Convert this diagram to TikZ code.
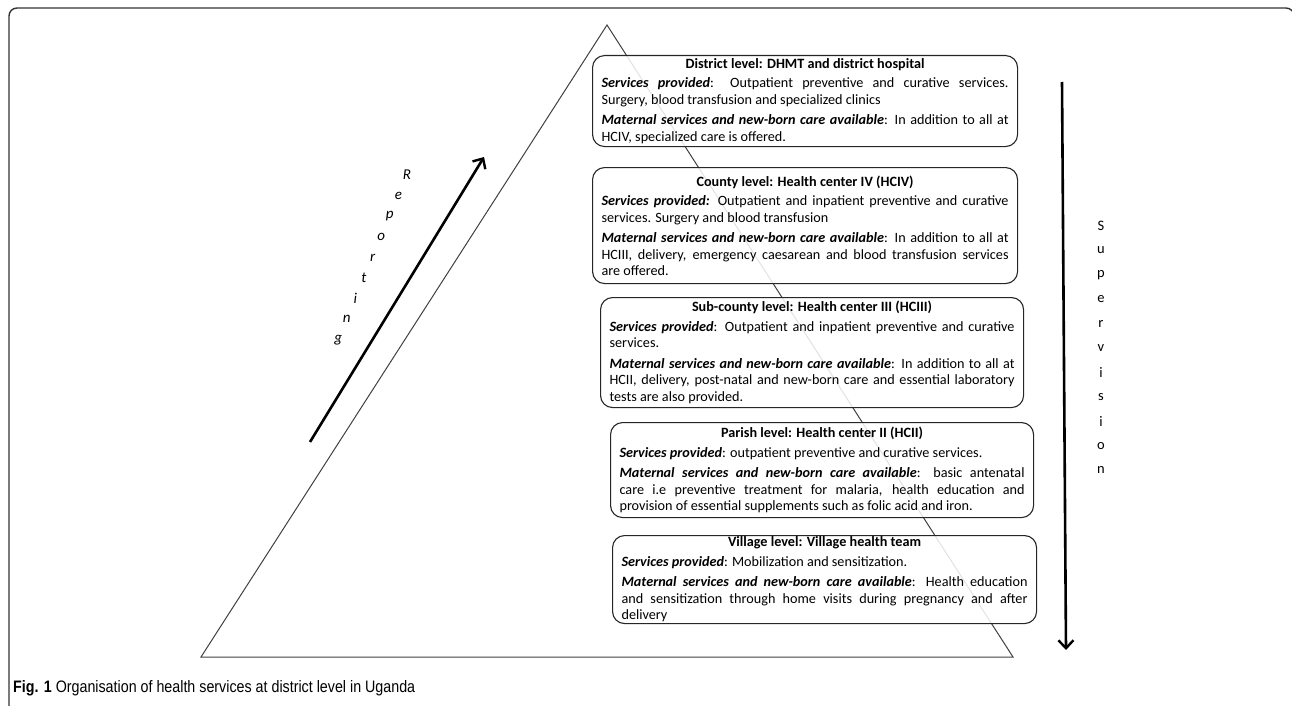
\documentclass[tikz,border=0pt]{standalone}
\usepackage{fontspec}
\setmainfont{Carlito}
\newfontfamily\capfont[FakeStretch=0.86]{Liberation Sans}
\usetikzlibrary{arrows.meta}
\newcommand\lvlcontent[3]{{\centering\bfseries #1\par}\vspace{3pt}#2\par\vspace{4pt}#3}
\tikzset{
  lvlbox/.style={draw=black!85, line width=1.1pt, rounded corners=12pt, fill=white, fill opacity=0.85, text opacity=1,
    anchor=north west, align=justify, inner xsep=9pt, inner ysep=0pt,
    font=\fontsize{14.2}{16.5}\selectfont},
  bigarrow/.style={line width=2.6pt, -{Straight Barb[length=8pt,width=15pt,line width=2.4pt]}},
  repletter/.style={font=\fontsize{15}{17}\selectfont\itshape, inner sep=0pt},
  supletter/.style={font=\fontsize{14.5}{17}\selectfont, inner sep=0pt},
  frameline/.style={draw=black!80, line width=1.4pt, rounded corners=8pt},
  triline/.style={draw=black!75, line width=1pt}
}
\begin{document}
\begin{tikzpicture}[x=1pt,y=-1pt]
\useasboundingbox (0,0) rectangle (1292,706);
% frame
\draw[frameline] (9,720) -- (9,8) -- (1294,8) -- (1294,720);
% triangle
\coordinate (apex) at (607,25);
\coordinate (bl) at (201,657);
\coordinate (br) at (1013,657);
\draw[triline] (apex) -- (bl) -- (br) -- cycle;
% boxes
\node[lvlbox, text width=407pt, minimum height=91pt] (district) at (592,55)
 {\lvlcontent{District level: DHMT and district hospital}
 {\textbf{\textit{Services provided}}: Outpatient preventive and curative services.\linebreak
 Surgery, blood transfusion and specialized clinics}
 {\textbf{\textit{Maternal services and new-born care available}}: In addition to all at\linebreak
 HCIV, specialized care is offered.}};
\node[lvlbox, text width=407pt, minimum height=116pt] (county) at (592,167)
 {\lvlcontent{County level: Health center IV (HCIV)}
 {\textbf{\textit{Services provided:}} Outpatient and inpatient preventive and curative\linebreak
 services. Surgery and blood transfusion}
 {\textbf{\textit{Maternal services and new-born care available}}: In addition to all at\linebreak
 HCIII, delivery, emergency caesarean and blood transfusion services\linebreak
 are offered.}};
\node[lvlbox, text width=405pt, minimum height=110pt] (subcounty) at (600,297)
 {\lvlcontent{Sub-county level: Health center III (HCIII)}
 {\textbf{\textit{Services provided}}: Outpatient and inpatient preventive and curative\linebreak
 services.}
 {\textbf{\textit{Maternal services and new-born care available}}: In addition to all at\linebreak
 HCII, delivery, post-natal and new-born care and essential laboratory\linebreak
 tests are also provided.}};
\node[lvlbox, text width=405pt, minimum height=95pt] (parish) at (610,422)
 {\lvlcontent{Parish level: Health center II (HCII)}
 {\textbf{\textit{Services provided}}: outpatient preventive and curative services.}
 {\textbf{\textit{Maternal services and new-born care available}}: basic antenatal\linebreak
 care i.e preventive treatment for malaria, health education and\linebreak
 provision of essential supplements such as folic acid and iron.}};
\node[lvlbox, text width=406pt, minimum height=88pt] (village) at (612,535)
 {\lvlcontent{Village level: Village health team}
 {\textbf{\textit{Services provided}}: Mobilization and sensitization.}
 {\textbf{\textit{Maternal services and new-born care available}}: Health education\linebreak
 and sensitization through home visits during pregnancy and after\linebreak
 delivery}};
% reporting arrow
\coordinate (repS) at (310,442);
\coordinate (repE) at (484,157);
\draw[bigarrow] (repS) -- (repE);
\foreach \ch [count=\i from 0] in {R,e,p,o,r,t,i,n,g}{
  \node[repletter] (rep\i) at ({407-8.6*\i},{175+20.6*\i}) {\ch};
}
% supervision arrow
\coordinate (supS) at (1062,82);
\coordinate (supE) at (1066,650);
\draw[bigarrow] (supS) -- (supE);
\foreach \ch [count=\i from 0] in {S,u,p,e,r,v,i,s,i,o,n}{
  \node[supletter] (sup\i) at (1101,{226+24.4*\i}) {\ch};
}
% caption
\node[anchor=base west, inner sep=0pt] (caption) at (13,692)
 {\capfont\fontsize{16.6}{19}\selectfont\textbf{Fig. 1} Organisation of health services at district level in Uganda};
\end{tikzpicture}
\end{document}
